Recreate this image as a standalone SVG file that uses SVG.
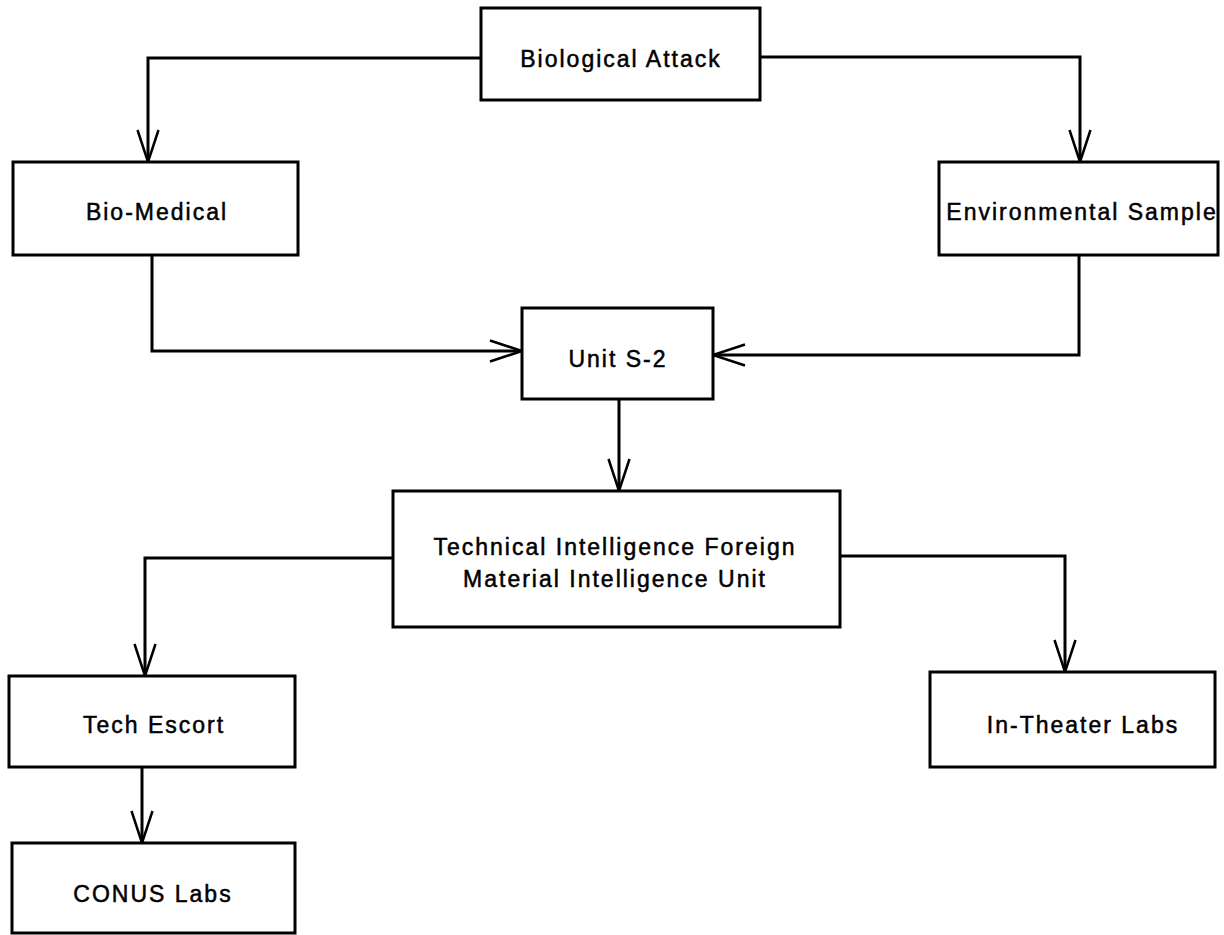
<svg xmlns="http://www.w3.org/2000/svg" width="1224" height="935" viewBox="0 0 1224 935">
<style>
.box{fill:#fff;stroke:#000;stroke-width:3}
.lbl{font-family:"Liberation Sans",Arial,sans-serif;font-size:23px;letter-spacing:2px;fill:#000;stroke:#000;stroke-width:0.5;text-anchor:middle}
.con{fill:none;stroke:#000;stroke-width:3;stroke-linejoin:miter}
</style>
<defs>
<marker id="arr" markerUnits="userSpaceOnUse" markerWidth="40" markerHeight="30" viewBox="-36 -15 40 30" refX="0" refY="0" orient="auto" overflow="visible">
<path d="M -32 -10.5 L 0 0 L -32 10.5" fill="none" stroke="#000" stroke-width="2.5"/>
</marker>
</defs>
<rect width="1224" height="935" fill="#fff"/>
<g id="connectors">
<path class="con" d="M 481 58 L 148 58 L 148 162" marker-end="url(#arr)"/>
<path class="con" d="M 760 57 L 1080 57 L 1080 162" marker-end="url(#arr)"/>
<path class="con" d="M 152 255 L 152 351 L 522 351" marker-end="url(#arr)"/>
<path class="con" d="M 1079 255 L 1079 355 L 713 355" marker-end="url(#arr)"/>
<path class="con" d="M 619 399 L 619 491" marker-end="url(#arr)"/>
<path class="con" d="M 393 558 L 145 558 L 145 676" marker-end="url(#arr)"/>
<path class="con" d="M 840 556 L 1065 556 L 1065 672" marker-end="url(#arr)"/>
<path class="con" d="M 142 767 L 142 843" marker-end="url(#arr)"/>
</g>
<g id="biological-attack">
<rect class="box" x="481" y="8" width="279" height="92"/>
<text class="lbl" x="621" y="67">Biological Attack</text>
</g>
<g id="bio-medical">
<rect class="box" x="13" y="162" width="285" height="93"/>
<text class="lbl" x="157" y="220">Bio-Medical</text>
</g>
<g id="environmental-sample">
<rect class="box" x="939" y="162" width="279" height="93"/>
<text class="lbl" x="1082" y="220">Environmental Sample</text>
</g>
<g id="unit-s2">
<rect class="box" x="522" y="308" width="191" height="91"/>
<text class="lbl" x="618" y="367">Unit S-2</text>
</g>
<g id="tech-intel">
<rect class="box" x="393" y="491" width="447" height="136"/>
<text class="lbl" x="615" y="555">Technical Intelligence Foreign</text>
<text class="lbl" x="615" y="587">Material Intelligence Unit</text>
</g>
<g id="tech-escort">
<rect class="box" x="9" y="676" width="286" height="91"/>
<text class="lbl" x="154" y="733">Tech Escort</text>
</g>
<g id="conus-labs">
<rect class="box" x="12" y="843" width="283" height="90"/>
<text class="lbl" x="153" y="902">CONUS Labs</text>
</g>
<g id="in-theater-labs">
<rect class="box" x="930" y="672" width="285" height="95"/>
<text class="lbl" x="1083" y="733">In-Theater Labs</text>
</g>
</svg>
